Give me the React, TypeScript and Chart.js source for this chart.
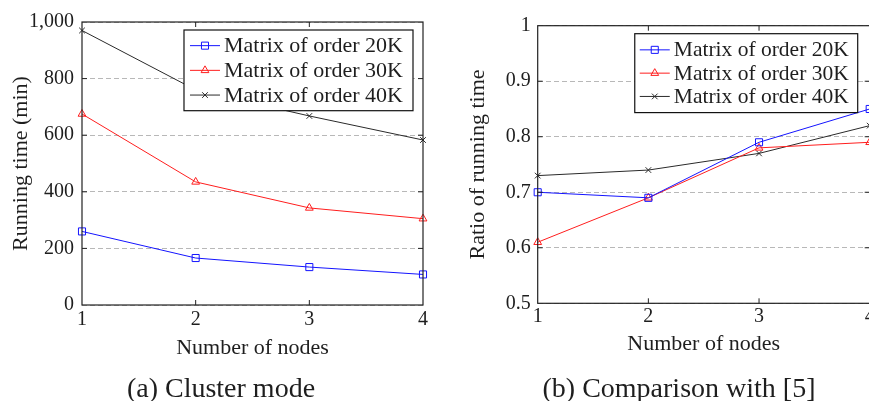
import { useEffect, useRef } from 'react';
import { Chart, registerables } from 'chart.js';
import { drawPoint } from 'chart.js/helpers';

Chart.register(...registerables);

// ---------- data ----------
const nodes = [1, 2, 3, 4];
const seriesNames = ['Matrix of order 20K', 'Matrix of order 30K', 'Matrix of order 40K'];
const time20K = [260, 166, 134, 108];
const time30K = [675, 435, 343, 305];
const time40K = [970, 760, 668, 583];
const ratio20K = [0.7, 0.69, 0.79, 0.85];
const ratio30K = [0.61, 0.69, 0.78, 0.79];
const ratio40K = [0.73, 0.74, 0.77, 0.82];
const timeTickLabels = ['0', '200', '400', '600', '800', '1,000'];
const ratioTickLabels = ['0.5', '0.6', '0.7', '0.8', '0.9', '1'];
const nodeTickLabels = ['1', '2', '3', '4'];
const xTitle = 'Number of nodes';
const leftYTitle = 'Running time (min)';
const rightYTitle = 'Ratio of running time';
const captionA = '(a) Cluster mode';
const captionB = '(b) Comparison with [5]';

const FONT = "'Liberation Serif', 'Times New Roman', serif";
const TEXT = '#1e1e1e';
const seriesStyles = [
  { color: 'rgb(20,20,255)', pointStyle: 'rect', radius: 5 },
  { color: 'rgb(255,30,30)', pointStyle: 'triangle', radius: 4.5 },
  { color: '#2a2a2a', pointStyle: 'crossRot', radius: 4 },
];

const frameTicks = {
  id: 'frameTicks',
  afterDatasetsDraw(chart: any) {
    const { ctx, chartArea: a, scales } = chart;
    ctx.save();
    ctx.strokeStyle = '#222';
    ctx.lineWidth = 1.2;
    ctx.strokeRect(a.left, a.top, a.right - a.left, a.bottom - a.top);
    const L = 5;
    ctx.lineWidth = 1;
    ctx.beginPath();
    for (const t of scales.x.ticks) {
      const px = scales.x.getPixelForValue(t.value);
      if (px <= a.left + 1 || px >= a.right - 1) continue;
      ctx.moveTo(px, a.bottom);
      ctx.lineTo(px, a.bottom - L);
      ctx.moveTo(px, a.top);
      ctx.lineTo(px, a.top + L);
    }
    for (const t of scales.y.ticks) {
      const py = scales.y.getPixelForValue(t.value);
      if (py <= a.top + 1 || py >= a.bottom - 1) continue;
      ctx.moveTo(a.left, py);
      ctx.lineTo(a.left + L, py);
      ctx.moveTo(a.right, py);
      ctx.lineTo(a.right - L, py);
    }
    ctx.stroke();
    ctx.restore();
  },
};

const boxLegend = {
  id: 'boxLegend',
  afterDraw(chart: any, _args: any, opts: any) {
    const { ctx, chartArea: a } = chart;
    const ds = chart.data.datasets;
    ctx.save();
    ctx.font = `${opts.size}px ${FONT}`;
    const tw = Math.max(...ds.map((d: any) => ctx.measureText(d.label).width));
    const w = opts.padL + opts.sampleW + opts.gap + tw + opts.padR;
    const h = opts.padV * 2 + opts.rowH * ds.length;
    const x0 = a.right - opts.right - w;
    const y0 = a.top + opts.top;
    ctx.fillStyle = '#fff';
    ctx.fillRect(x0, y0, w, h);
    ctx.strokeStyle = '#111';
    ctx.lineWidth = 1.2;
    ctx.strokeRect(x0, y0, w, h);
    ds.forEach((d: any, i: number) => {
      const cy = y0 + opts.padV + opts.rowH * (i + 0.5);
      const sx = x0 + opts.padL;
      ctx.strokeStyle = d.borderColor;
      ctx.lineWidth = 1;
      ctx.beginPath();
      ctx.moveTo(sx, cy);
      ctx.lineTo(sx + opts.sampleW, cy);
      ctx.stroke();
      ctx.fillStyle = 'rgba(0,0,0,0)';
      drawPoint(ctx, { pointStyle: d.pointStyle, radius: d.pointRadius, rotation: 0, borderWidth: 1 } as any, sx + opts.sampleW / 2, cy);
      ctx.fillStyle = TEXT;
      ctx.textBaseline = 'middle';
      ctx.textAlign = 'left';
      ctx.fillText(d.label, sx + opts.sampleW + opts.gap, cy + 1);
    });
    ctx.restore();
  },
};

function buildConfig(p: any) {
  const series = [p.s1, p.s2, p.s3];
  return {
    type: 'line',
    data: {
      datasets: series.map((vals: number[], k: number) => ({
        label: seriesNames[k],
        data: nodes.map((x, i) => ({ x, y: vals[i] })),
        borderColor: seriesStyles[k].color,
        borderWidth: 1,
        pointStyle: seriesStyles[k].pointStyle,
        pointRadius: seriesStyles[k].radius,
        pointBorderWidth: 1,
        pointBorderColor: seriesStyles[k].color,
        pointBackgroundColor: 'rgba(0,0,0,0)',
        tension: 0,
        clip: false,
      })),
    },
    options: {
      animation: false,
      responsive: false,
      events: [],
      layout: { padding: p.padding },
      plugins: {
        legend: { display: false },
        tooltip: { enabled: false },
        boxLegend: p.legend,
      },
      scales: {
        x: {
          type: 'linear',
          min: 1,
          max: 4,
          afterFit: (s: any) => { s.height = p.xH; },
          ticks: {
            stepSize: 1,
            padding: p.xTickPad,
            color: TEXT,
            font: { family: FONT, size: 20 },
            callback: (_v: any, i: number) => nodeTickLabels[i],
          },
          grid: { display: false, drawTicks: false },
          border: { display: false },
          title: {
            display: true,
            text: xTitle,
            color: TEXT,
            font: { family: FONT, size: 22 },
            padding: { top: 0, bottom: p.xTitlePB },
          },
        },
        y: {
          type: 'linear',
          min: p.yMin,
          max: p.yMax,
          afterFit: (s: any) => { s.width = p.yW; },
          ticks: {
            stepSize: p.yStep,
            padding: p.yTickPad,
            color: TEXT,
            font: { family: FONT, size: 20 },
            callback: (_v: any, i: number) => p.yLabels[i],
          },
          grid: { color: '#b8b8b8', lineWidth: 1, drawTicks: false },
          border: { display: false, dash: [5, 3] },
          title: {
            display: true,
            text: p.yTitle,
            color: TEXT,
            font: { family: FONT, size: 22 },
            padding: { top: p.yTitlePT, bottom: 0 },
          },
        },
      },
    },
    plugins: [frameTicks, boxLegend],
  };
}

const CH = 372;

const leftParams = {
  s1: time20K, s2: time30K, s3: time40K,
  padding: { top: 22, right: 17, left: 0, bottom: 0 },
  xH: CH - 305, xTickPad: 3, xTitlePB: 11,
  yW: 82, yTickPad: 8, yTitlePT: 8,
  yMin: 0, yMax: 1000, yStep: 200, yLabels: timeTickLabels, yTitle: leftYTitle,
  legend: { size: 22, right: 10, top: 8, rowH: 24.7, padV: 3.3, padL: 6, sampleW: 30, gap: 4, padR: 10 },
};

const rightParams = {
  s1: ratio20K, s2: ratio30K, s3: ratio40K,
  padding: { top: 25.7, right: 10.3, left: 0, bottom: 0 },
  xH: CH - 303.3, xTickPad: 1, xTitlePB: 15,
  yW: 97.7, yTickPad: 7, yTitlePT: 25,
  yMin: 0.5, yMax: 1, yStep: 0.1, yLabels: ratioTickLabels, yTitle: rightYTitle,
  legend: { size: 21.5, right: 12, top: 8, rowH: 23.3, padV: 4.5, padL: 5, sampleW: 30, gap: 4, padR: 9 },
};

function ChartBox({ left, width, height, params }: any) {
  const ref = useRef<HTMLCanvasElement | null>(null);
  useEffect(() => {
    const c = new Chart(ref.current as HTMLCanvasElement, buildConfig(params) as any);
    return () => c.destroy();
  }, []);
  return (
    <div style={{ position: 'absolute', left, top: 0, width, height }}>
      <canvas ref={ref} width={width} height={height} style={{ display: 'block', width, height }} />
    </div>
  );
}

const captionStyle: any = {
  position: 'absolute',
  top: 371,
  height: 34,
  lineHeight: '34px',
  fontFamily: FONT,
  fontSize: 28,
  color: TEXT,
  textAlign: 'center',
  whiteSpace: 'nowrap',
};

export default function App() {
  return (
    <div style={{ position: 'fixed', left: 0, top: 0, width: 869, height: 401, overflow: 'hidden', background: '#fff' }}>
      <ChartBox left={0} width={440} height={CH} params={leftParams} />
      <ChartBox left={440} width={440} height={CH} params={rightParams} />
      <div style={{ ...captionStyle, left: 21, width: 400 }}>{captionA}</div>
      <div style={{ ...captionStyle, left: 479, width: 400 }}>{captionB}</div>
    </div>
  );
}
